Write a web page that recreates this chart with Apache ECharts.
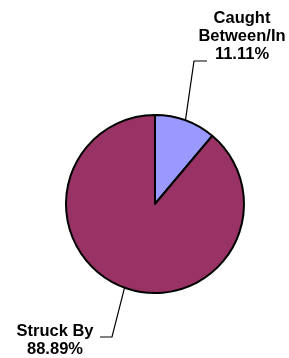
<!DOCTYPE html>
<html>
<head>
<meta charset="utf-8">
<script src="https://cdn.jsdelivr.net/npm/echarts@6/dist/echarts.min.js"></script>
<style>
html, body { margin: 0; padding: 0; background: #fff; }
#main { width: 289px; height: 358px; }
</style>
</head>
<body>
<div id="main"></div>
<script>
var categories = ['Caught\nBetween/In', 'Struck By'];
var values = [1, 8];
var colors = ['#9999FF', '#993366'];

// where each label block sits and the elbow of its leader line
var labelSpots = [
    { x: 242, y: 36, elbow: [194, 61], end: [207, 61] },
    { x: 55, y: 340, elbow: [112, 337], end: [100, 337] }
];

var myChart = echarts.init(document.getElementById('main'));

var data = categories.map(function (name, i) {
    return { name: name, value: values[i], itemStyle: { color: colors[i] } };
});

option = {
    animation: false,
    series: [
        {
            type: 'pie',
            center: [155, 204],
            radius: 89,
            startAngle: 90,
            clockwise: true,
            data: data,
            itemStyle: {
                borderColor: '#000',
                borderWidth: 2
            },
            label: {
                show: true,
                formatter: '{b}\n{d}%',
                color: '#000',
                fontFamily: 'Liberation Sans, Arial, sans-serif',
                fontWeight: 'bold',
                fontSize: 16.5,
                lineHeight: 18,
                align: 'center',
                width: 130,
                overflow: 'none'
            },
            labelLine: {
                show: true,
                lineStyle: { color: '#000', width: 1.2 }
            },
            labelLayout: function (params) {
                var s = labelSpots[params.dataIndex];
                var start = params.labelLinePoints ? params.labelLinePoints[0] : s.elbow;
                return {
                    x: s.x,
                    y: s.y,
                    align: 'center',
                    verticalAlign: 'middle',
                    labelLinePoints: [start, s.elbow, s.end]
                };
            }
        }
    ]
};

myChart.setOption(option);
</script>
</body>
</html>
